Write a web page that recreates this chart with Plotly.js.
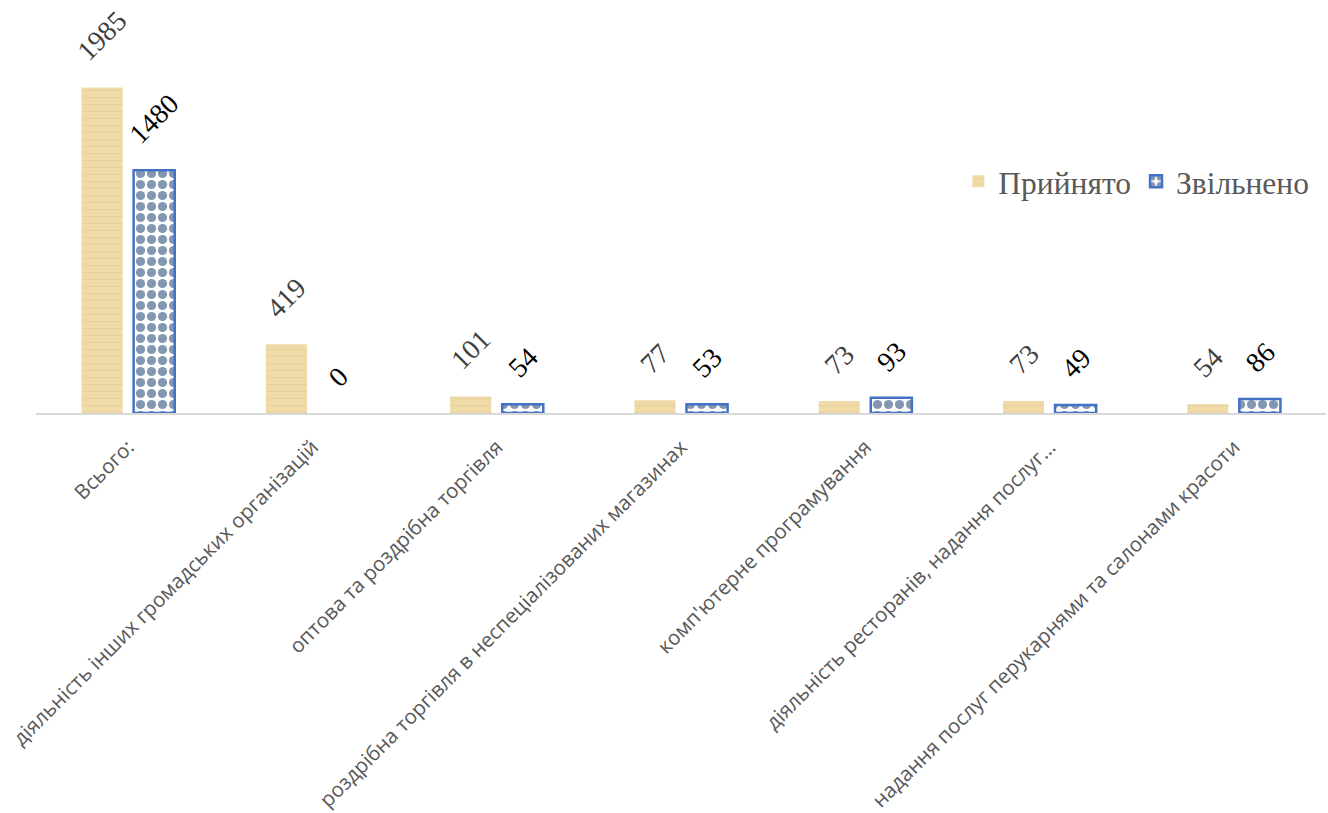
<!DOCTYPE html>
<html>
<head>
<meta charset="utf-8">
<script src="https://cdn.plot.ly/plotly-3.0.1.min.js"></script>
<style>
html,body{margin:0;padding:0;background:#fff;}
#chart{width:1328px;height:813px;}
</style>
</head>
<body>
<div id="chart"></div>
<script>
const categories = [
  "Всього:",
  "діяльність інших громадських організацій",
  "оптова та роздрібна торгівля",
  "роздрібна торгівля в неспеціалізованих магазинах",
  "комп'ютерне програмування",
  "діяльність ресторанів, надання послуг...",
  "надання послуг перукарнями та салонами красоти"
];
const hiredName = "Прийнято";
const firedName = "Звільнено";
const hired = [1985, 419, 101, 77, 73, 73, 54];
const fired = [1480, 0, 54, 53, 93, 49, 86];

const traces = [
  {
    type: "bar", name: hiredName, x: categories, y: hired,
    marker: {
      color: "#EED8A3",
      line: {width: 0},
      pattern: {shape: "-", fgcolor: "#E6D09C", bgcolor: "#F0DBA8", size: 7, solidity: 0.15, fillmode: "replace"}
    },
    hoverinfo: "x+y"
  },
  {
    type: "bar", name: firedName, x: categories, y: fired,
    marker: {
      color: "#FFFFFF",
      line: {width: fired.map(v => v === 0 ? 0 : 2.5), color: "#4472C4"},
      pattern: {shape: ".", fgcolor: "#8497B0", bgcolor: "#FFFFFF", size: 11, solidity: 0.55, fillmode: "replace"}
    },
    hoverinfo: "x+y"
  }
];

const annotations = [];
categories.forEach((c, i) => {
  annotations.push({
    x: c, y: hired[i], xref: "x", yref: "y", text: String(hired[i]),
    showarrow: false, textangle: -45, xanchor: "center", yanchor: "bottom",
    xshift: -26, yshift: 18,
    font: {family: "Liberation Serif, Times New Roman, serif", size: 28, color: "#404040"}
  });
  annotations.push({
    x: c, y: fired[i], xref: "x", yref: "y", text: String(fired[i]),
    showarrow: false, textangle: -45, xanchor: "center", yanchor: "bottom",
    xshift: 26, yshift: 18,
    font: {family: "Liberation Serif, Times New Roman, serif", size: 28, color: "#000000"}
  });
});

const layout = {
  width: 1328, height: 813,
  margin: {l: 36, r: 2, t: 3, b: 400},
  paper_bgcolor: "#FFFFFF", plot_bgcolor: "#FFFFFF",
  barmode: "group", bargap: 0.435, bargroupgap: 0.21,
  showlegend: true,
  legend: {
    orientation: "h", x: 0.715, xanchor: "left", y: 0.565, yanchor: "middle",
    font: {family: "Liberation Serif, Times New Roman, serif", size: 31.5, color: "#595959"},
    bgcolor: "rgba(0,0,0,0)"
  },
  xaxis: {
    type: "category", showgrid: false, zeroline: false,
    showline: true, linecolor: "#D9D9D9", linewidth: 2,
    tickangle: -45, ticks: "outside", ticklen: 12, tickcolor: "rgba(0,0,0,0)", automargin: false,
    tickfont: {family: "Open Sans, Noto Sans, sans-serif", size: 20.5, color: "#595959"}
  },
  yaxis: {
    range: [0, 2500], visible: false, showgrid: false, zeroline: false, fixedrange: true
  },
  annotations: annotations
};

Plotly.newPlot("chart", traces, layout, {displayModeBar: false, staticPlot: true});
</script>
</body>
</html>
